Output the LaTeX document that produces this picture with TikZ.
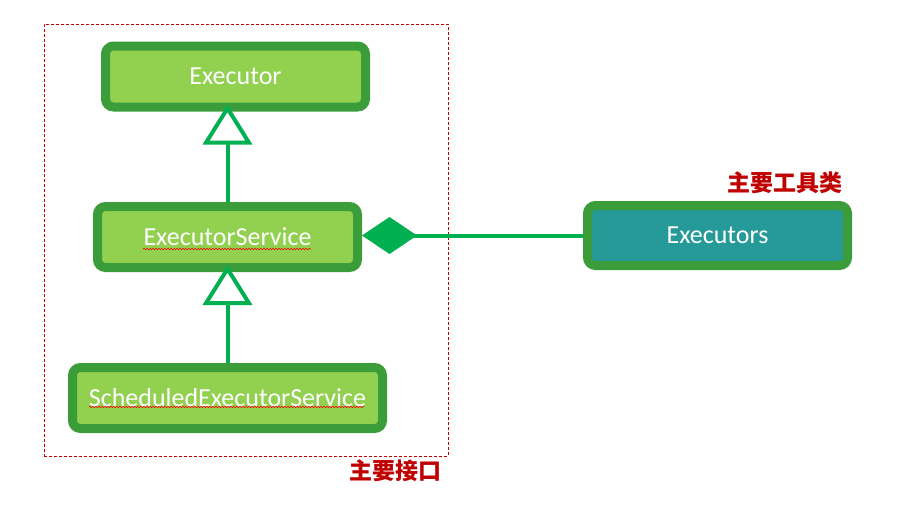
\documentclass[tikz,border=0pt]{standalone}
\usepackage{fontspec}
\setmainfont{Carlito}
\newfontfamily\cjk{Noto Sans CJK SC}
\usetikzlibrary{arrows.meta,decorations.pathmorphing}
\definecolor{boxborder}{HTML}{3A9D3A}
\definecolor{boxfill}{HTML}{92D050}
\definecolor{tealfill}{HTML}{259A99}
\definecolor{conn}{HTML}{00B050}
\definecolor{lblred}{HTML}{C00000}
\begin{document}
\begin{tikzpicture}[x=1pt,y=-1pt,
  cls/.style={draw=boxborder, line width=9pt, fill=boxfill, rounded corners=8pt,
    minimum width=260pt, minimum height=61pt, inner sep=0pt, text=white,
    font=\fontsize{26}{29}\selectfont},
  util/.style={cls, fill=tealfill, minimum height=60pt},
  impl/.style={draw=conn, line width=4pt, -{Triangle[open, fill=white, length=40pt, width=49pt]}, shorten >=-7pt},
  comp/.style={draw=conn, line width=4pt, -{Diamond[length=55pt, width=37pt]}},
  frame/.style={draw=lblred, dash pattern=on 3pt off 2pt, line width=0.9pt},
  lbl/.style={text=lblred, font=\cjk\bfseries\fontsize{23}{25}\selectfont, inner sep=0pt},
  squig/.style={draw=red, line width=0.6pt, decorate, decoration={snake, amplitude=0.7pt, segment length=3pt}}
]
\useasboundingbox (0,0) rectangle (907,504);
\node[frame, minimum width=404pt, minimum height=432pt, inner sep=0pt] (grp) at (246,240) {};
\node[cls] (ex) at (235.5,76.5) {Executor};
\node[cls] (es) at (227.5,237) {ExecutorService};
\node[cls, minimum width=310pt] (ses) at (227.5,398) {ScheduledExecutorService};
\node[util] (exs) at (717.5,235.5) {Executors};
\draw[impl] (es.north) -- (es.north |- ex.south);
\draw[impl] (ses.north) -- (es.south);
\draw[comp] (exs.west) -- (exs.west -| es.east);
\draw[squig] (143,249) -- (311,249);
\draw[squig] (89,407) -- (364,407);
\node[lbl] (l1) at (785,183) {主要工具类};
\node[lbl] (l2) at (395,471) {主要接口};
\end{tikzpicture}
\end{document}
